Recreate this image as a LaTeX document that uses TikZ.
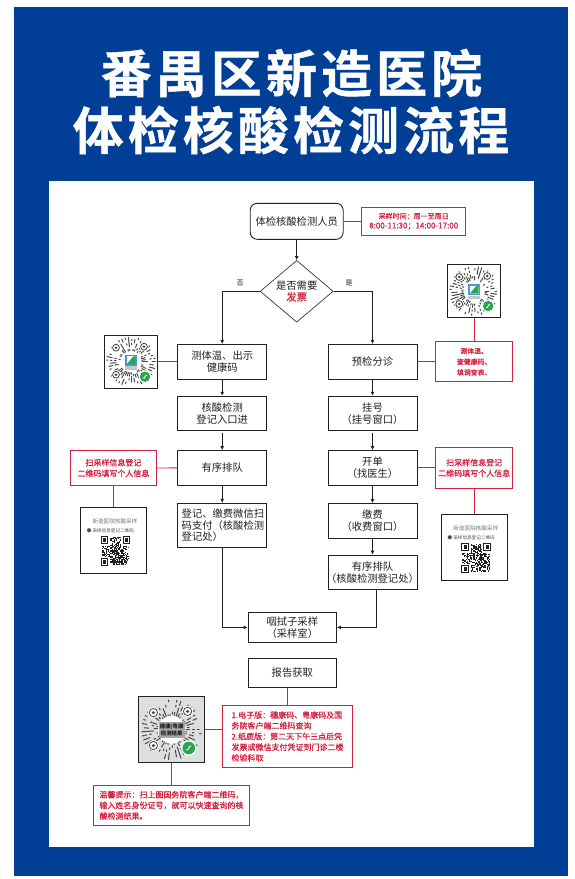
\documentclass[tikz,border=0pt]{standalone}
\usepackage{fontspec}
\setmainfont{Noto Sans CJK SC}
\newfontfamily\notefont[FakeBold=.6]{Noto Sans CJK SC}
\newfontfamily\headfont[FakeBold=.8]{Noto Sans CJK SC Bold}
\usetikzlibrary{arrows.meta,shapes.geometric}
\definecolor{ink}{HTML}{1E2022}
\definecolor{navy}{HTML}{003F95}
\definecolor{crimson}{HTML}{D2203F}
\definecolor{leaf}{HTML}{2AA552}
\definecolor{sky}{HTML}{4A97D8}

% round mini-programme code around a named frame
\newcommand{\suncode}[2]{%
\begin{scope}[shift={(#1.center)},scale=#2]
\foreach \r in {11,13,...,23}{\foreach \a in {0,8,...,352}{
\pgfmathtruncatemacro\on{rnd>.5?1:0}
\ifnum\on=1 \draw[ink!85,line width=1,line cap=round] (\a:\r) -- (\a:{\r+1.5});\fi}}
\foreach \p/\q in {-15/-14,13/-15,-15/13}{
\fill[white] (\p,\q) circle (4.6);
\draw[ink!85,line width=.8] (\p,\q) circle (3.4);
\fill[ink!85] (\p,\q) circle (1.4);}
\fill[white] (14,15) circle (6.4);
\fill[leaf] (14,15) circle (5.2);
\draw[white,line width=.9] (12,16.5) .. controls (14,18) and (14,12) .. (16,13.5);
\end{scope}}

% square code, 25 modules
\newcommand{\squarecode}[1]{%
\begin{scope}[shift={(#1)}]
\foreach \i in {-12,...,12}{\foreach \j in {-12,...,12}{
\pgfmathtruncatemacro\on{rnd>.5?1:0}
\ifnum\on=1 \fill[ink] ({\i*1.1-.55},{\j*1.1-.55}) rectangle ++(1.1,1.1);\fi}}
\foreach \p/\q in {-10/-10,10/-10,-10/10}{
\fill[white] ({\p*1.1-5.5},{\q*1.1-5.5}) rectangle ++(11,11);
\draw[ink,line width=1.1] ({\p*1.1-3.3},{\q*1.1-3.3}) rectangle ++(6.6,6.6);
\fill[ink] ({\p*1.1-1.6},{\q*1.1-1.6}) rectangle ++(3.2,3.2);}
\end{scope}}

\begin{document}
\begin{tikzpicture}[x=1pt,y=-1pt,>=Latex,line width=.9,every node/.style={inner sep=0,text=ink,font=\fontsize{10.3}{11.5}\selectfont},stepbox/.style={draw=ink,line width=.9,align=center,minimum width=89,minimum height=34.6},notebox/.style={draw=crimson,line width=.9,align=center,text=crimson,font=\notefont\fontsize{8}{10.7}\selectfont},codebox/.style={draw=ink,fill=white,line width=.9},flow/.style={->,ink,line width=1.4,>={Latex[length=4,width=4]}},link/.style={crimson,line width=.9},small/.style={text=ink!60,font=\fontsize{4.6}{5}\selectfont},headline/.style={text=white,font=\headfont\fontsize{51}{51}\selectfont\addfontfeature{LetterSpace=8}}]
\path[use as bounding box] (0,0) rectangle (574,879);

\fill[navy] (14,7) rectangle (568,876);
\fill[white] (49,181) rectangle (534,847);
\node[headline] (titleA) at (291.5,73) {番禺区新造医院};
\node[headline] (titleB) at (291,130) {体检核酸检测流程};

% main flow
\node[stepbox,rounded corners=7,minimum width=93,minimum height=36] (person) at (296.7,221.3) {体检核酸检测人员};
\node[notebox,font=\notefont\fontsize{7}{9.6}\selectfont,minimum width=104,minimum height=28] (hours) at (413.7,221.3) {采样时间：周一至周日\\\fontsize{8}{9.6}\selectfont 8:00-11:30；14:00-17:00};
\node[draw=ink,diamond,line width=.6,minimum width=73,minimum height=60.7,align=center] (ask) at (296.7,291.3) {是否需要\\\textcolor{crimson}{\notefont 发票}};
\node[font=\fontsize{7}{8}\selectfont] (no) at (240,283) {否};
\node[font=\fontsize{7}{8}\selectfont] (yes) at (349,283) {是};

\node[stepbox] (temp) at (222.2,361.7) {测体温、出示\\健康码};
\node[stepbox] (entry) at (222.2,413.5) {核酸检测\\登记入口进};
\node[stepbox] (queueL) at (222.2,467.9) {有序排队};
\node[stepbox,minimum height=44,align=left,text width=81,minimum width=89,inner xsep=4] (pay) at (222.2,525.3) {登记、缴费微信扫\\码支付（核酸检测\\登记处）};

\node[stepbox] (triage) at (372.5,361.7) {预检分诊};
\node[stepbox] (register) at (372.5,413.5) {挂号\\（挂号窗口）};
\node[stepbox] (doctor) at (372.5,467.9) {开单\\（找医生）};
\node[stepbox] (cashier) at (372.5,520.8) {缴费\\（收费窗口）};
\node[stepbox] (queueR) at (372.5,572.4) {有序排队\\\makebox[0pt][c]{（核酸检测登记处）}};

\node[stepbox,minimum width=88.4,minimum height=29.4] (sample) at (292.3,627.4) {咽拭子采样\\（采样室）};
\node[stepbox,minimum width=88.4,minimum height=29.4] (report) at (292.3,673) {报告获取};

\draw[flow] (person.south) -- (ask.north);
\draw[flow] (ask.west) -| (temp.north);
\draw[flow] (ask.east) -| (triage.north);
\draw[flow] (temp.south) -- (entry.north);
\draw[flow,shorten <=2] (entry.south) -- (queueL.north);
\draw[flow] (queueL.south) -- (pay.north);
\draw[flow] (triage.south) -- (register.north);
\draw[flow,shorten <=2] (register.south) -- (doctor.north);
\draw[flow] (doctor.south) -- (cashier.north);
\draw[flow] (cashier.south) -- (queueR.north);
\coordinate (joinR) at ([xshift=4]queueR.south);
\draw[flow] (pay.south) |- (sample.west);
\draw[flow] (joinR) |- (sample.east);

% red notes
\node[notebox,font=\notefont\fontsize{6.9}{10.7}\selectfont,minimum width=77,minimum height=40] (noteTemp) at (474.2,361.7) {测体温、\\查健康码、\\填调查表、};
\node[notebox,minimum width=86.7,minimum height=35.4] (noteL) at (113.4,468) {扫采样信息登记\\二维码填写个人信息};
\node[notebox,minimum width=77,minimum height=40.3] (noteR) at (474.2,467.9) {扫采样信息登记\\二维码填写个人信息};
\node[notebox,align=left,minimum width=129.6,minimum height=62.7] (noteReport) at (287.5,736.4) {1.电子版：穗康码、粤康码及国\\务院客户端二维码查询\\2.纸质版：第二天下午三点后凭\\发票或微信支付凭证到门诊二楼\\检验科取};
\node[notebox,align=left,minimum width=156.4,minimum height=40.7] (noteTip) at (171.5,805.3) {温馨提示：扫上图国务院客户端二维码，\\输入姓名身份证号，就可以快速查询的核\\酸检测结果。};

% codes
\pgfmathsetseed{21}
\node[codebox,minimum size=53.4] (codeTemp) at (131,361.7) {};
\suncode{codeTemp}{1}
\node[codebox,minimum size=53.4] (codeTriage) at (474.2,291) {};
\suncode{codeTriage}{1}
\foreach \n in {codeTemp,codeTriage}{
\begin{scope}[shift={(\n.center)}]
\fill[white] (0,0) circle (10);
\fill[ink!25] (-6,4.5) rectangle (6,8);
\fill[sky] (-6,-7) rectangle (6,4);
\fill[white] (-4.4,-5.4) rectangle (4.4,2.6);
\fill[leaf] (-4.4,2.6) -- (2.4,-5.4) -- (4.4,-5.4) -- (4.4,2.6) -- cycle;
\end{scope}}
\node[codebox,fill=ink!15,minimum size=66] (codeResult) at (171.7,729.7) {};
\suncode{codeResult}{1.22}
\fill[white] (codeResult.center) circle (14);
\fill[ink!40] ([xshift=-13,yshift=-8]codeResult.center) rectangle ([xshift=13,yshift=8]codeResult.center);
\node[align=center,text=ink,font=\bfseries\fontsize{5.4}{7}\selectfont] (resultText) at (codeResult.center) {穗康/粤康\\检测结果};

\node[codebox,minimum size=66.4] (formL) at (113.4,540.7) {};
\node[small,font=\fontsize{5.6}{6}\selectfont] (formTitleL) at ([xshift=1.5,yshift=19]formL.center) {新造医院核酸采样};
\node[small,text=ink!80] (formTextL) at ([xshift=-3,yshift=9.7]formL.center) {● 采样信息登记二维码};
\squarecode{[xshift=2,yshift=-10.3]formL.center}
\node[codebox,minimum size=66.4] (formR) at (474.2,547.7) {};
\node[small,font=\fontsize{5.6}{6}\selectfont] (formTitleR) at ([xshift=1.5,yshift=19]formR.center) {新造医院核酸采样};
\node[small,text=ink!80] (formTextR) at ([xshift=-3,yshift=9.7]formR.center) {● 采样信息登记二维码};
\squarecode{[xshift=2,yshift=-10.3]formR.center}

% red links
\draw[link] (person.east) -- (hours.west);
\draw[link] (codeTemp.east) -- (temp.west);
\draw[link] (triage.east) -- (noteTemp.west);
\draw[link] (codeTriage.south) -- (noteTemp.north);
\draw[link] (noteL.east) -- (queueL.west);
\draw[link] (noteL.south) -- (formL.north);
\draw[link] (doctor.east) -- (noteR.west);
\draw[link] (noteR.south) -- (formR.north);
\draw[link] (noteReport.north) -- (noteReport.north |- report.south);
\draw[link] (codeResult.east) -- (codeResult.east -| noteReport.west);
\draw[link] (codeResult.south) -- (codeResult.south |- noteTip.north);
\end{tikzpicture}
\end{document}
